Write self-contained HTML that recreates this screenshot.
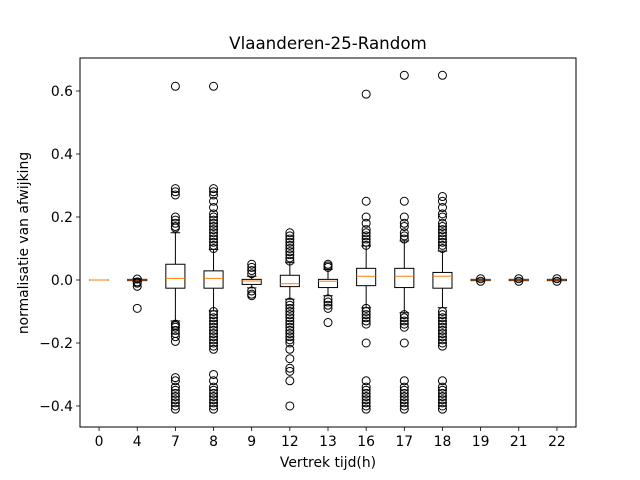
<!DOCTYPE html>
<html><head><meta charset="utf-8"><style>
body{margin:0;background:#fff}
svg{display:block;font-family:"DejaVu Sans","Liberation Sans",sans-serif}
</style></head><body>
<svg id="chart" width="640" height="480">
<rect width="640" height="480" fill="#fff"/>
<text x="328" y="49" font-size="16.7" text-anchor="middle">Vlaanderen-25-Random</text>
<text x="328" y="467" font-size="13.9" text-anchor="middle">Vertrek tijd(h)</text>
<text transform="translate(28,243) rotate(-90)" font-size="13.9" text-anchor="middle">normalisatie van afwijking</text>
<g id="marks"></g>
<g id="axes"></g>
</svg>
<script>
const categories = ["0","4","7","8","9","12","13","16","17","18","19","21","22"];
const q1 =      [0, -0.002, -0.026, -0.026, -0.014, -0.021, -0.024, -0.018, -0.024, -0.026, -0.002, -0.002, -0.002];
const q3 =      [0, 0.002, 0.05, 0.029, 0.002, 0.015, 0.002, 0.037, 0.037, 0.024, 0.002, 0.002, 0.002];
const medians = [0, 0, 0.005, 0.005, -0.003, -0.012, -0.004, 0.012, 0.012, 0.012, 0, 0, 0];
const whiskLo = [0, -0.004, -0.13, -0.098, -0.025, -0.061, -0.05, -0.088, -0.104, -0.088, -0.003, -0.003, -0.003];
const whiskHi = [0, 0.004, 0.15, 0.097, 0.012, 0.055, 0.034, 0.108, 0.124, 0.092, 0.003, 0.003, 0.003];
const outliers = [
 [],
 [0.003, -0.006, -0.01, -0.02, -0.09],
 [0.615, 0.29, 0.28, 0.27, 0.2, 0.19, 0.18, 0.17, 0.165, -0.14, -0.145, -0.15, -0.16, -0.17, -0.18, -0.195, -0.31, -0.32, -0.34, -0.35, -0.36, -0.37, -0.38, -0.39, -0.40, -0.41],
 [0.615, 0.29, 0.28, 0.27, 0.25, 0.23, 0.21, 0.2, 0.19, 0.18, 0.17, 0.16, 0.15, 0.14, 0.13, 0.12, 0.11, 0.1, -0.1, -0.11, -0.12, -0.13, -0.14, -0.15, -0.16, -0.17, -0.18, -0.19, -0.2, -0.21, -0.22, -0.3, -0.32, -0.34, -0.35, -0.36, -0.37, -0.38, -0.39, -0.4, -0.41],
 [0.05, 0.04, 0.03, 0.02, -0.035, -0.045, -0.05],
 [0.15, 0.14, 0.13, 0.12, 0.11, 0.1, 0.09, 0.08, 0.07, 0.06, -0.07, -0.08, -0.09, -0.1, -0.11, -0.12, -0.13, -0.14, -0.15, -0.16, -0.17, -0.18, -0.19, -0.2, -0.22, -0.25, -0.28, -0.29, -0.32, -0.4],
 [0.05, 0.045, 0.04, -0.06, -0.07, -0.08, -0.09, -0.135],
 [0.59, 0.25, 0.2, 0.18, 0.16, 0.15, 0.14, 0.13, 0.12, 0.11, -0.09, -0.1, -0.11, -0.12, -0.13, -0.14, -0.2, -0.32, -0.34, -0.35, -0.36, -0.37, -0.38, -0.39, -0.4, -0.41],
 [0.65, 0.25, 0.2, 0.18, 0.17, 0.15, 0.14, 0.13, -0.11, -0.12, -0.13, -0.14, -0.15, -0.2, -0.32, -0.34, -0.35, -0.36, -0.37, -0.38, -0.39, -0.4, -0.41],
 [0.65, 0.265, 0.25, 0.23, 0.21, 0.2, 0.18, 0.17, 0.16, 0.15, 0.14, 0.13, 0.12, 0.11, 0.1, -0.1, -0.11, -0.12, -0.13, -0.14, -0.15, -0.16, -0.17, -0.18, -0.19, -0.2, -0.21, -0.32, -0.34, -0.35, -0.36, -0.37, -0.38, -0.39, -0.4, -0.41],
 [0.004, -0.004],
 [0.004, -0.004],
 [0.004, -0.004]
];
const yTicks = [-0.4, -0.2, 0.0, 0.2, 0.4, 0.6];
const yTickLabels = ["\u22120.4", "\u22120.2", "0.0", "0.2", "0.4", "0.6"];

const L=80, R=576, T=58, B=427;
const yMin=-0.4667, yMax=0.7048;
const y = v => B - (v - yMin) / (yMax - yMin) * (B - T);
const step = (R - L) / categories.length;
const x = i => L + step * (i + 0.5);
const NS = "http://www.w3.org/2000/svg";
function mk(tag, attrs, parent){const e=document.createElementNS(NS,tag);for(const k in attrs)e.setAttribute(k,attrs[k]);parent.appendChild(e);return e;}
const marks=document.getElementById('marks'), axes=document.getElementById('axes');
const bw = step*0.5, cw = bw*0.5;
categories.forEach((c,i)=>{
  const g=mk('g',{},marks);
  
  
  const cx=x(i);
  const ln=(x1,y1,x2,y2)=>mk('line',{x1,y1,x2,y2,stroke:'#000','stroke-width':1},g);
  ln(cx,y(q1[i]),cx,y(whiskLo[i])); ln(cx,y(q3[i]),cx,y(whiskHi[i]));
  ln(cx-cw/2,y(whiskLo[i]),cx+cw/2,y(whiskLo[i])); ln(cx-cw/2,y(whiskHi[i]),cx+cw/2,y(whiskHi[i]));
  const top=y(q3[i]), bot=y(q1[i]);
  const box=mk('rect',{x:cx-bw/2,y:top,width:bw,height:Math.max(bot-top,0.01),fill:'none',stroke:'#000','stroke-width':1},g);
  
  
  const med=mk('line',{x1:cx-bw/2,y1:y(medians[i]),x2:cx+bw/2,y2:y(medians[i]),stroke:'#ff7f0e','stroke-width':1},g);
  
  
  outliers[i].forEach(v=>{
    const p=mk('circle',{cx:cx,cy:y(v),r:4,fill:'none',stroke:'#000','stroke-width':1},g);
    
    
  });
  const t=mk('line',{x1:cx,y1:B,x2:cx,y2:B+4,stroke:'#000','stroke-width':0.8},axes);
  
  
  const lb=mk('text',{x:cx,y:B+19,'font-size':13.9,'text-anchor':'middle'},axes);
  lb.textContent=c;
  
  
});
yTicks.forEach((v,k)=>{
  const t=mk('line',{x1:L-4,y1:y(v),x2:L,y2:y(v),stroke:'#000','stroke-width':0.8},axes);
  
  
  const lb=mk('text',{x:L-7,y:y(v)+5,'font-size':13.9,'text-anchor':'end'},axes);
  lb.textContent=yTickLabels[k];
  
  
});
const fr=mk('rect',{x:L,y:T,width:R-L,height:B-T,fill:'none',stroke:'#000','stroke-width':1},axes);


</script>
</body></html>
